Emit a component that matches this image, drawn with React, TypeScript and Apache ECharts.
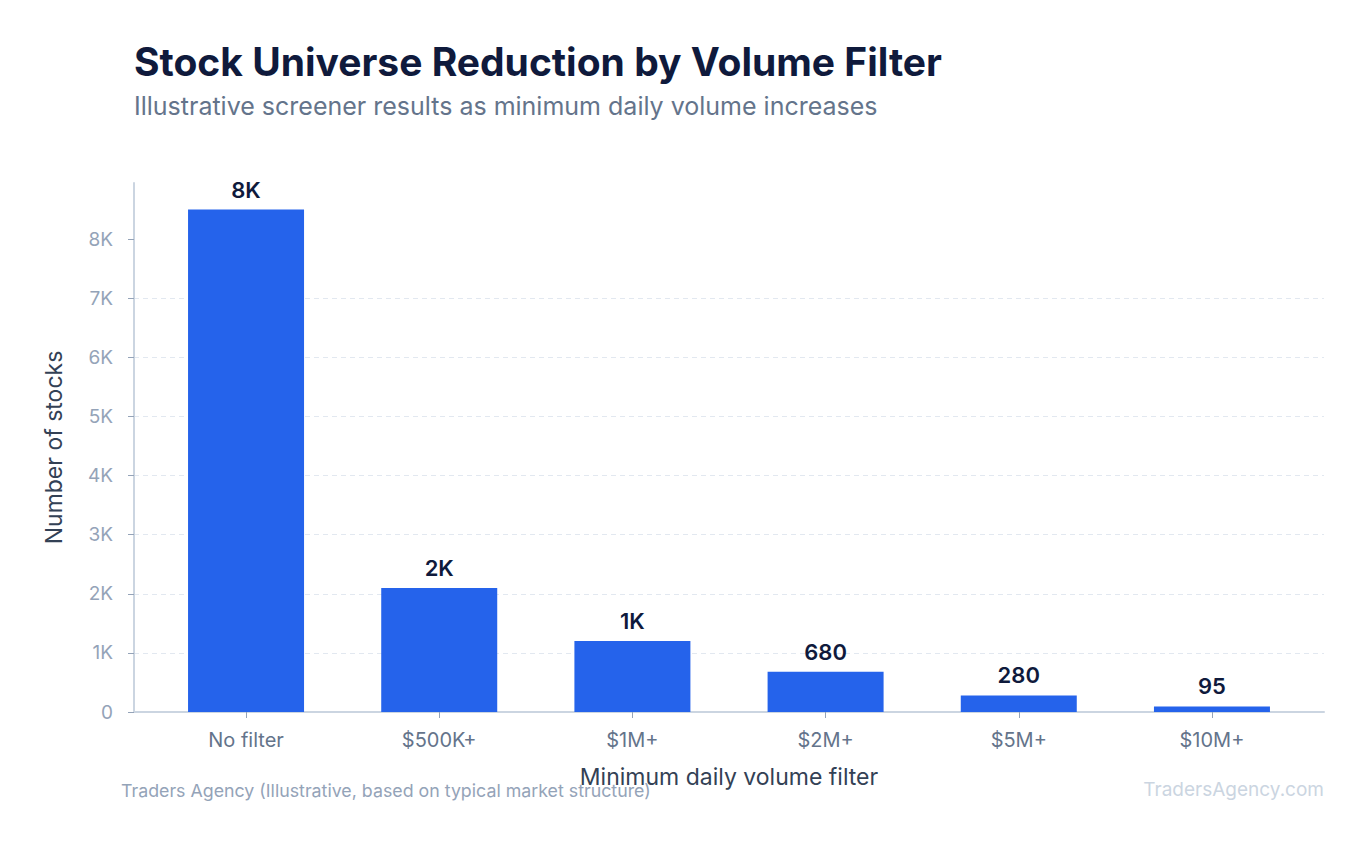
import React, { useRef, useEffect } from 'react';
import * as echarts from 'echarts';

const CATEGORIES = ['No filter', '$500K+', '$1M+', '$2M+', '$5M+', '$10M+'];
const STOCK_COUNTS = [8500, 2100, 1200, 680, 280, 95];
const Y_TICKS = [0, 1000, 2000, 3000, 4000, 5000, 6000, 7000, 8000];
const X_POSITIONS = [0, 1, 2, 3, 4, 5];
const Y_MAX = 8950;

const FONT = 'Inter, "Noto Sans", sans-serif';

function fmtK(v: number): string {
  if (v >= 1000) return `${Math.floor(v / 1000)}K`;
  return `${v}`;
}

export default function App() {
  const chartRef = useRef<HTMLDivElement>(null);

  useEffect(() => {
    if (!chartRef.current) return;
    const chart = echarts.init(chartRef.current, undefined, { renderer: 'svg' });

    // categories sit on a value axis so there is a bit of padding at both ends
    const option: echarts.EChartsOption = {
      animation: false,
      backgroundColor: '#ffffff',
      textStyle: { fontFamily: FONT },
      title: {
        text: 'Stock Universe Reduction by Volume Filter',
        subtext: 'Illustrative screener results as minimum daily volume increases',
        left: 129,
        top: 37,
        itemGap: 12,
        textStyle: { fontFamily: FONT, fontSize: 39, fontWeight: 700, color: '#0f1a3c' },
        subtextStyle: { fontFamily: FONT, fontSize: 25, color: '#64748b' },
      },
      grid: { left: 134, right: 45, top: 183, bottom: 133 },
      xAxis: {
        type: 'value',
        min: -0.58,
        max: 5.58,
        name: 'Minimum daily volume filter',
        nameLocation: 'middle',
        nameGap: 53,
        nameTextStyle: { fontFamily: FONT, fontSize: 23, color: '#334155' },
        axisLine: { show: true, onZero: false, lineStyle: { color: '#cbd5e1', width: 2 } },
        axisTick: { show: true, length: 6, customValues: X_POSITIONS, lineStyle: { color: '#94a3b8' } },
        axisLabel: {
          fontFamily: FONT,
          fontSize: 20,
          color: '#64748b',
          margin: 18,
          customValues: X_POSITIONS,
          formatter: (v: number) => CATEGORIES[Math.round(v)] ?? '',
        },
        splitLine: { show: false },
      } as any,
      yAxis: {
        type: 'value',
        min: 0,
        max: Y_MAX,
        interval: 1000,
        name: 'Number of stocks',
        nameLocation: 'middle',
        nameGap: 69,
        nameTextStyle: { fontFamily: FONT, fontSize: 23, color: '#334155' },
        axisLine: { show: true, onZero: false, lineStyle: { color: '#cbd5e1', width: 2 } },
        axisTick: {
          show: true,
          length: 6,
          customValues: Y_TICKS,
          lineStyle: { color: '#94a3b8' },
        },
        axisLabel: {
          fontFamily: FONT,
          fontSize: 19,
          color: '#94a3b8',
          margin: 21,
          customValues: Y_TICKS,
          formatter: (v: number) => fmtK(v),
        },
        splitLine: {
          showMaxLine: false,
          lineStyle: { color: '#e2e8f0', type: [5, 4], width: 1 },
        },
      } as any,
      series: [
        {
          type: 'bar',
          data: STOCK_COUNTS.map((v, i) => [X_POSITIONS[i], v]),
          barWidth: 116,
          itemStyle: { color: '#2563eb' },
          label: {
            show: true,
            position: 'top',
            distance: 9,
            fontFamily: FONT,
            fontSize: 22,
            fontWeight: 600,
            color: '#0f1a3c',
            formatter: (p: any) => fmtK(p.value[1]),
          },
        },
      ],
      graphic: [
        {
          type: 'text',
          left: 121,
          top: 781,
          style: {
            text: 'Traders Agency (Illustrative, based on typical market structure)',
            fontFamily: FONT,
            fontSize: 17.8,
            fill: '#94a3b8',
          },
        },
        {
          type: 'text',
          right: 45,
          top: 780,
          style: {
            text: 'TradersAgency.com',
            fontFamily: FONT,
            fontSize: 19,
            fill: '#cbd5e1',
          },
        },
      ],
    };

    chart.setOption(option);
    return () => chart.dispose();
  }, []);

  return (
    <div
      ref={chartRef}
      style={{ position: 'fixed', left: 0, top: 0, width: 1369, height: 845, background: '#fff' }}
    />
  );
}
